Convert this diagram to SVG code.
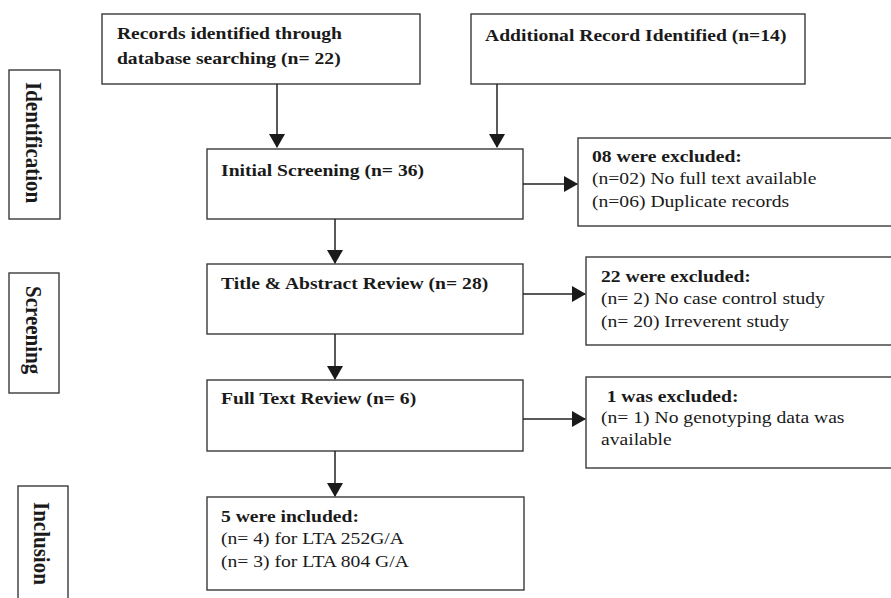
<svg xmlns="http://www.w3.org/2000/svg" width="891" height="598" viewBox="0 0 891 598">
<style>
.box{fill:#fff;stroke:#3a3a3a;stroke-width:1.4}
.ln{stroke:#222;stroke-width:1.5;fill:none}
.t{font-family:"Liberation Serif","Times New Roman",serif;font-size:17.6px;fill:#1a1a1a}
.b{font-weight:bold}
.lbl{font-family:"Liberation Serif","Times New Roman",serif;font-size:21px;font-weight:bold;fill:#1a1a1a}
</style>
<defs>
<marker id="ah" markerUnits="userSpaceOnUse" markerWidth="14" markerHeight="16" refX="13" refY="8" orient="auto">
<path d="M0,0 L14,8 L0,16 Z" fill="#1a1a1a"/>
</marker>
</defs>
<rect width="891" height="598" fill="#fff"/>
<g id="label-identification"><rect class="box" x="9" y="70" width="51" height="149"/></g>
<g id="label-screening"><rect class="box" x="9" y="273" width="50" height="120"/></g>
<g id="label-inclusion"><rect class="box" x="18" y="486" width="50" height="130"/></g>
<g id="n-database"><rect class="box" x="102" y="14" width="318" height="70"/></g>
<g id="n-additional"><rect class="box" x="471" y="14" width="334" height="70"/></g>
<g id="n-initial"><rect class="box" x="207" y="149" width="316" height="70"/></g>
<g id="n-excl1"><rect class="box" x="578" y="138" width="330" height="88"/></g>
<g id="n-title"><rect class="box" x="207" y="264" width="316" height="70"/></g>
<g id="n-excl2"><rect class="box" x="586" y="257" width="330" height="88"/></g>
<g id="n-full"><rect class="box" x="207" y="380" width="316" height="71"/></g>
<g id="n-excl3"><rect class="box" x="586" y="377" width="330" height="91"/></g>
<g id="n-included"><rect class="box" x="207" y="497" width="317" height="93"/></g>
<g id="connectors">
<line class="ln" x1="277" y1="84" x2="277" y2="147" marker-end="url(#ah)"/>
<line class="ln" x1="497" y1="84" x2="497" y2="147" marker-end="url(#ah)"/>
<line class="ln" x1="523" y1="184" x2="577" y2="184" marker-end="url(#ah)"/>
<line class="ln" x1="335" y1="219" x2="335" y2="263" marker-end="url(#ah)"/>
<line class="ln" x1="523" y1="294" x2="585" y2="294" marker-end="url(#ah)"/>
<line class="ln" x1="335" y1="334" x2="335" y2="379" marker-end="url(#ah)"/>
<line class="ln" x1="523" y1="419" x2="585" y2="419" marker-end="url(#ah)"/>
<line class="ln" x1="335" y1="451" x2="335" y2="496" marker-end="url(#ah)"/>
</g>
<g id="texts" transform="scale(1.114 1)">
<text class="lbl" transform="translate(23.4,82) rotate(90)">Identification</text>
<text class="lbl" transform="translate(23.6,286) rotate(90)">Screening</text>
<text class="lbl" transform="translate(30.5,502) rotate(90)">Inclusion</text>
<text class="t b" x="105" y="39.5">Records identified through</text>
<text class="t b" x="105" y="64.5">database searching (n= 22)</text>
<text class="t b" x="435.4" y="41">Additional Record Identified (n=14)</text>
<text class="t b" x="198.4" y="176">Initial Screening (n= 36)</text>
<text class="t b" x="531.4" y="162">08 were excluded:</text>
<text class="t" x="531.4" y="184.3">(n=02) No full text available</text>
<text class="t" x="531.4" y="206.6">(n=06) Duplicate records</text>
<text class="t b" x="198.4" y="289">Title &amp; Abstract Review (n= 28)</text>
<text class="t b" x="539.5" y="282">22 were excluded:</text>
<text class="t" x="539.5" y="304.3">(n= 2) No case control study</text>
<text class="t" x="539.5" y="326.6">(n= 20) Irreverent study</text>
<text class="t b" x="198.4" y="404">Full Text Review (n= 6)</text>
<text class="t b" x="544.6" y="401.7">1 was excluded:</text>
<text class="t" x="539.5" y="423.5">(n= 1) No genotyping data was</text>
<text class="t" x="539.5" y="445.3">available</text>
<text class="t b" x="198.4" y="522">5 were included:</text>
<text class="t" x="198.4" y="544.5">(n= 4) for LTA 252G/A</text>
<text class="t" x="198.4" y="566.8">(n= 3) for LTA 804 G/A</text>
</g>
</svg>
